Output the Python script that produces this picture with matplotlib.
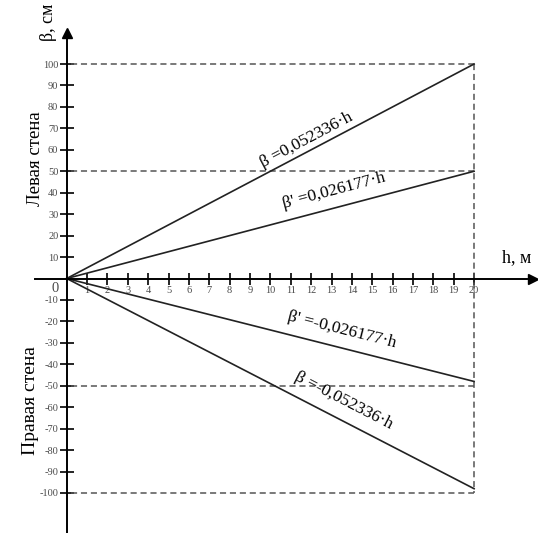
import numpy as np
import matplotlib
matplotlib.use("Agg")
import matplotlib.pyplot as plt

# values
H_END = 20
LINE_ENDS = [100, 50, -48, -98]          # beta at h = 20
LINE_LABELS = ["β =0,052336·h", "β' =0,026177·h",
               "β' =-0,026177·h", "β =-0,052336·h"]
LABEL_POS = [(11.8, 64.6), (13.1, 41.0), (13.5, -24.0), (13.6, -57.0)]
GUIDES_Y = [100, 50, -50, -100]
XTICKS = list(range(1, 21))
YTICKS = [v for v in range(-100, 101, 10) if v != 0]

plt.rcParams.update({"font.family": "Liberation Serif", "axes.unicode_minus": False})

fig = plt.figure(figsize=(5.38, 5.33), dpi=100)
ax = fig.add_axes([0, 0, 1, 1])
ax.set_xlim(-66.7 / 20.37, (538 - 66.7) / 20.37)
ax.set_ylim(-(533 - 278.5) / 2.145, 278.5 / 2.145)

for s in ("top", "right"):
    ax.spines[s].set_visible(False)
for s in ("left", "bottom"):
    ax.spines[s].set_position(("data", 0))
    ax.spines[s].set_linewidth(1.4)
ax.spines["bottom"].set_bounds(-1.55, 22.6)
ax.spines["left"].set_bounds(-125, 113)
ax.plot(22.9, 0, ">", color="black", ms=7, clip_on=False)
ax.plot(0, 114.5, "^", color="black", ms=7, clip_on=False)

ax.set_xticks(XTICKS)
ax.set_yticks(YTICKS)
ax.tick_params(direction="inout", length=9, width=1.2, labelsize=7.5,
               labelcolor="#4a4a4a", pad=1)
ax.tick_params(axis="y", length=10)
ax.text(-0.4, -1.5, "0", ha="right", va="top", fontsize=10.5, color="#4a4a4a")

# dashed guide lines
for g in GUIDES_Y:
    ax.plot([0.2, H_END], [g, g], ls=(0, (4, 2.5)), color="#555555", lw=1.1)
ax.plot([H_END, H_END], [100, -100], ls=(0, (4, 2.5)), color="#555555", lw=1.1)

# beta lines
for end, lab, (tx, ty) in zip(LINE_ENDS, LINE_LABELS, LABEL_POS):
    ax.plot([0, H_END], [0, end], color="#222222", lw=1.2)
    ang = np.degrees(np.arctan2(end, H_END))
    ax.text(tx, ty, lab, fontsize=12.5, ha="center", va="center",
            rotation=ang, rotation_mode="anchor", transform_rotates_text=True)

ax.text(-0.9, 128, "β, см", rotation=90, fontsize=13, ha="center", va="top")
ax.text(22.1, 6, "h, м", fontsize=13, ha="center", va="bottom")
ax.text(-1.55, 56, "Левая стена", rotation=90, fontsize=13.5, ha="center", va="center")
ax.text(-1.8, -57, "Правая стена", rotation=90, fontsize=14, ha="center", va="center")

fig.savefig("out.png", dpi=100)
